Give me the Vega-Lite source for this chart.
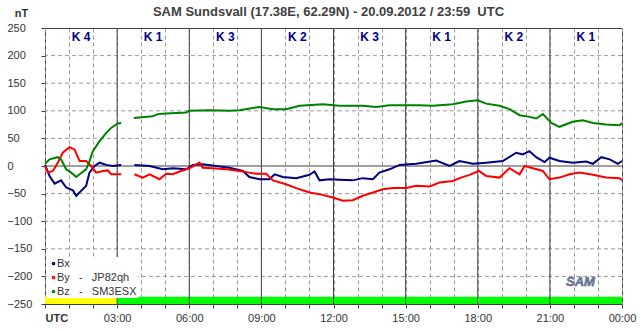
{
  "$schema": "https://vega.github.io/schema/vega-lite/v6.json",
  "width": 577,
  "height": 276,
  "autosize": {"type": "none"},
  "padding": {"left": 45, "top": 28, "right": 21, "bottom": 27},
  "background": "white",
  "config": {
    "font": "Liberation Sans",
    "view": {"stroke": "#404040", "strokeWidth": 1},
    "axis": {
      "grid": true,
      "gridColor": "#999999",
      "gridDash": [4, 3],
      "gridWidth": 1,
      "gridOpacity": 1,
      "domain": false,
      "ticks": true,
      "tickSize": 4,
      "tickColor": "#404040",
      "labelFontSize": 11,
      "labelColor": "#333333",
      "labelOverlap": false,
      "labelFlush": false,
      "labelBound": false
    },
    "axisX": {"labelPadding": 4},
    "axisY": {"labelAlign": "left", "labelBaseline": "middle", "labelPadding": 34}
  },
  "title": {
    "text": "SAM Sundsvall (17.38E, 62.29N) - 20.09.2012 / 23:59\u00a0\u00a0UTC",
    "fontSize": 13,
    "fontWeight": "bold",
    "color": "#404040",
    "anchor": "middle",
    "frame": "group",
    "dx": -5,
    "offset": -12
  },
  "datasets": {
    "band": [
      {"from": 0, "to": 3, "status": "partial"},
      {"from": 3, "to": 17.98, "status": "ok"},
      {"from": 18.04, "to": 24, "status": "ok"}
    ],
    "hours3": [{"h": 3}, {"h": 6}, {"h": 9}, {"h": 12}, {"h": 15}, {"h": 18}, {"h": 21}],
    "ygrid": [{"g": -200}, {"g": -150}, {"g": -100}, {"g": -50}, {"g": 50}, {"g": 100}, {"g": 150}, {"g": 200}],
    "kindex": [
      {"start": 0, "k": "K 4"}, {"start": 3, "k": "K 1"}, {"start": 6, "k": "K 3"}, {"start": 9, "k": "K 2"},
      {"start": 12, "k": "K 3"}, {"start": 15, "k": "K 1"}, {"start": 18, "k": "K 2"}, {"start": 21, "k": "K 1"}
    ],
    "mag": [
      {"c": "Bx", "s": 1, "t": 0, "v": 2}, {"c": "Bx", "s": 1, "t": 0.19, "v": -18}, {"c": "Bx", "s": 1, "t": 0.4, "v": -32},
      {"c": "Bx", "s": 1, "t": 0.67, "v": -26}, {"c": "Bx", "s": 1, "t": 0.88, "v": -39}, {"c": "Bx", "s": 1, "t": 1.16, "v": -44},
      {"c": "Bx", "s": 1, "t": 1.3, "v": -54}, {"c": "Bx", "s": 1, "t": 1.5, "v": -45}, {"c": "Bx", "s": 1, "t": 1.71, "v": -36},
      {"c": "Bx", "s": 1, "t": 1.85, "v": -12}, {"c": "Bx", "s": 1, "t": 2.06, "v": 0}, {"c": "Bx", "s": 1, "t": 2.27, "v": 6},
      {"c": "Bx", "s": 1, "t": 2.55, "v": 2}, {"c": "Bx", "s": 1, "t": 2.82, "v": 0}, {"c": "Bx", "s": 1, "t": 3.17, "v": 2},
      {"c": "Bx", "s": 2, "t": 3.72, "v": 2}, {"c": "Bx", "s": 2, "t": 4.35, "v": 0}, {"c": "Bx", "s": 2, "t": 4.9, "v": -6},
      {"c": "Bx", "s": 2, "t": 5.32, "v": -4}, {"c": "Bx", "s": 2, "t": 5.87, "v": -6}, {"c": "Bx", "s": 2, "t": 6.15, "v": 2},
      {"c": "Bx", "s": 2, "t": 6.56, "v": 3}, {"c": "Bx", "s": 2, "t": 7.12, "v": 0}, {"c": "Bx", "s": 2, "t": 7.67, "v": -3},
      {"c": "Bx", "s": 2, "t": 8.23, "v": -9}, {"c": "Bx", "s": 2, "t": 8.5, "v": -20}, {"c": "Bx", "s": 2, "t": 8.92, "v": -24},
      {"c": "Bx", "s": 2, "t": 9.34, "v": -24}, {"c": "Bx", "s": 2, "t": 9.55, "v": -15}, {"c": "Bx", "s": 2, "t": 9.89, "v": -20},
      {"c": "Bx", "s": 2, "t": 10.45, "v": -22}, {"c": "Bx", "s": 2, "t": 11.0, "v": -16}, {"c": "Bx", "s": 2, "t": 11.21, "v": -10},
      {"c": "Bx", "s": 2, "t": 11.42, "v": -26}, {"c": "Bx", "s": 2, "t": 11.83, "v": -24}, {"c": "Bx", "s": 2, "t": 12.25, "v": -25},
      {"c": "Bx", "s": 2, "t": 12.8, "v": -26}, {"c": "Bx", "s": 2, "t": 13.22, "v": -22}, {"c": "Bx", "s": 2, "t": 13.64, "v": -24},
      {"c": "Bx", "s": 2, "t": 13.91, "v": -12}, {"c": "Bx", "s": 2, "t": 14.33, "v": -6}, {"c": "Bx", "s": 2, "t": 14.75, "v": 2},
      {"c": "Bx", "s": 2, "t": 15.44, "v": 4}, {"c": "Bx", "s": 2, "t": 16.27, "v": 10}, {"c": "Bx", "s": 2, "t": 16.83, "v": 0},
      {"c": "Bx", "s": 2, "t": 17.24, "v": 9}, {"c": "Bx", "s": 2, "t": 17.8, "v": 4}, {"c": "Bx", "s": 2, "t": 18.35, "v": 6},
      {"c": "Bx", "s": 2, "t": 19.04, "v": 9}, {"c": "Bx", "s": 2, "t": 19.6, "v": 24}, {"c": "Bx", "s": 2, "t": 19.87, "v": 21},
      {"c": "Bx", "s": 2, "t": 20.15, "v": 27}, {"c": "Bx", "s": 2, "t": 20.43, "v": 16}, {"c": "Bx", "s": 2, "t": 20.78, "v": 7},
      {"c": "Bx", "s": 2, "t": 20.98, "v": 15}, {"c": "Bx", "s": 2, "t": 21.4, "v": 9}, {"c": "Bx", "s": 2, "t": 21.95, "v": 6},
      {"c": "Bx", "s": 2, "t": 22.51, "v": 8}, {"c": "Bx", "s": 2, "t": 22.79, "v": 4}, {"c": "Bx", "s": 2, "t": 23.14, "v": 16},
      {"c": "Bx", "s": 2, "t": 23.49, "v": 12}, {"c": "Bx", "s": 2, "t": 23.83, "v": 4}, {"c": "Bx", "s": 2, "t": 24, "v": 9},

      {"c": "By", "s": 1, "t": 0, "v": 0}, {"c": "By", "s": 1, "t": 0.12, "v": -12}, {"c": "By", "s": 1, "t": 0.33, "v": -9},
      {"c": "By", "s": 1, "t": 0.53, "v": 6}, {"c": "By", "s": 1, "t": 0.74, "v": 24}, {"c": "By", "s": 1, "t": 1.02, "v": 34},
      {"c": "By", "s": 1, "t": 1.23, "v": 30}, {"c": "By", "s": 1, "t": 1.44, "v": 9}, {"c": "By", "s": 1, "t": 1.71, "v": 9},
      {"c": "By", "s": 1, "t": 1.92, "v": 0}, {"c": "By", "s": 1, "t": 2.13, "v": -12}, {"c": "By", "s": 1, "t": 2.41, "v": -9},
      {"c": "By", "s": 1, "t": 2.61, "v": -8}, {"c": "By", "s": 1, "t": 2.75, "v": -15}, {"c": "By", "s": 1, "t": 3.17, "v": -15},
      {"c": "By", "s": 2, "t": 3.72, "v": -15}, {"c": "By", "s": 2, "t": 4.07, "v": -21}, {"c": "By", "s": 2, "t": 4.35, "v": -15},
      {"c": "By", "s": 2, "t": 4.76, "v": -24}, {"c": "By", "s": 2, "t": 5.04, "v": -14}, {"c": "By", "s": 2, "t": 5.32, "v": -15},
      {"c": "By", "s": 2, "t": 5.6, "v": -10}, {"c": "By", "s": 2, "t": 6.01, "v": -4}, {"c": "By", "s": 2, "t": 6.43, "v": 6},
      {"c": "By", "s": 2, "t": 6.56, "v": -3}, {"c": "By", "s": 2, "t": 6.98, "v": -4}, {"c": "By", "s": 2, "t": 7.54, "v": -6},
      {"c": "By", "s": 2, "t": 7.95, "v": -8}, {"c": "By", "s": 2, "t": 8.09, "v": -9}, {"c": "By", "s": 2, "t": 8.5, "v": -12},
      {"c": "By", "s": 2, "t": 8.78, "v": -14}, {"c": "By", "s": 2, "t": 9.2, "v": -14}, {"c": "By", "s": 2, "t": 9.48, "v": -26},
      {"c": "By", "s": 2, "t": 10.03, "v": -33}, {"c": "By", "s": 2, "t": 10.45, "v": -40}, {"c": "By", "s": 2, "t": 11.0, "v": -48},
      {"c": "By", "s": 2, "t": 11.42, "v": -51}, {"c": "By", "s": 2, "t": 11.97, "v": -57}, {"c": "By", "s": 2, "t": 12.39, "v": -63},
      {"c": "By", "s": 2, "t": 12.8, "v": -62}, {"c": "By", "s": 2, "t": 13.22, "v": -54}, {"c": "By", "s": 2, "t": 13.64, "v": -48},
      {"c": "By", "s": 2, "t": 14.05, "v": -42}, {"c": "By", "s": 2, "t": 14.47, "v": -40}, {"c": "By", "s": 2, "t": 15.03, "v": -40},
      {"c": "By", "s": 2, "t": 15.44, "v": -36}, {"c": "By", "s": 2, "t": 16.0, "v": -37}, {"c": "By", "s": 2, "t": 16.41, "v": -30},
      {"c": "By", "s": 2, "t": 16.96, "v": -27}, {"c": "By", "s": 2, "t": 17.31, "v": -21}, {"c": "By", "s": 2, "t": 17.66, "v": -16},
      {"c": "By", "s": 2, "t": 18.05, "v": -9}, {"c": "By", "s": 2, "t": 18.35, "v": -18}, {"c": "By", "s": 2, "t": 18.91, "v": -21},
      {"c": "By", "s": 2, "t": 19.32, "v": -4}, {"c": "By", "s": 2, "t": 19.74, "v": -15}, {"c": "By", "s": 2, "t": 19.95, "v": 0},
      {"c": "By", "s": 2, "t": 20.29, "v": -4}, {"c": "By", "s": 2, "t": 20.71, "v": -9}, {"c": "By", "s": 2, "t": 20.98, "v": -24},
      {"c": "By", "s": 2, "t": 21.4, "v": -21}, {"c": "By", "s": 2, "t": 21.82, "v": -15}, {"c": "By", "s": 2, "t": 22.23, "v": -12},
      {"c": "By", "s": 2, "t": 22.79, "v": -16}, {"c": "By", "s": 2, "t": 23.34, "v": -21}, {"c": "By", "s": 2, "t": 23.9, "v": -22},
      {"c": "By", "s": 2, "t": 24, "v": -26},

      {"c": "Bz", "s": 1, "t": 0, "v": 4}, {"c": "Bz", "s": 1, "t": 0.19, "v": 12}, {"c": "Bz", "s": 1, "t": 0.53, "v": 16},
      {"c": "Bz", "s": 1, "t": 0.67, "v": 12}, {"c": "Bz", "s": 1, "t": 0.88, "v": -6}, {"c": "Bz", "s": 1, "t": 1.09, "v": -12},
      {"c": "Bz", "s": 1, "t": 1.3, "v": -20}, {"c": "Bz", "s": 1, "t": 1.44, "v": -15}, {"c": "Bz", "s": 1, "t": 1.71, "v": -6},
      {"c": "Bz", "s": 1, "t": 1.85, "v": 9}, {"c": "Bz", "s": 1, "t": 1.99, "v": 27}, {"c": "Bz", "s": 1, "t": 2.27, "v": 45},
      {"c": "Bz", "s": 1, "t": 2.55, "v": 60}, {"c": "Bz", "s": 1, "t": 2.75, "v": 69}, {"c": "Bz", "s": 1, "t": 3.03, "v": 77},
      {"c": "Bz", "s": 1, "t": 3.17, "v": 78},
      {"c": "Bz", "s": 2, "t": 3.69, "v": 87}, {"c": "Bz", "s": 2, "t": 4.48, "v": 90}, {"c": "Bz", "s": 2, "t": 4.69, "v": 94},
      {"c": "Bz", "s": 2, "t": 5.04, "v": 95}, {"c": "Bz", "s": 2, "t": 5.87, "v": 97}, {"c": "Bz", "s": 2, "t": 6.0, "v": 100},
      {"c": "Bz", "s": 2, "t": 6.8, "v": 101}, {"c": "Bz", "s": 2, "t": 7.67, "v": 100}, {"c": "Bz", "s": 2, "t": 8.09, "v": 101},
      {"c": "Bz", "s": 2, "t": 8.92, "v": 107}, {"c": "Bz", "s": 2, "t": 9.48, "v": 103}, {"c": "Bz", "s": 2, "t": 10.03, "v": 103},
      {"c": "Bz", "s": 2, "t": 10.59, "v": 109}, {"c": "Bz", "s": 2, "t": 11.56, "v": 112}, {"c": "Bz", "s": 2, "t": 12.25, "v": 109},
      {"c": "Bz", "s": 2, "t": 13.22, "v": 109}, {"c": "Bz", "s": 2, "t": 13.78, "v": 107}, {"c": "Bz", "s": 2, "t": 14.33, "v": 110},
      {"c": "Bz", "s": 2, "t": 15.16, "v": 110}, {"c": "Bz", "s": 2, "t": 15.58, "v": 110}, {"c": "Bz", "s": 2, "t": 16.13, "v": 109},
      {"c": "Bz", "s": 2, "t": 16.96, "v": 112}, {"c": "Bz", "s": 2, "t": 17.52, "v": 117}, {"c": "Bz", "s": 2, "t": 18.0, "v": 119},
      {"c": "Bz", "s": 2, "t": 18.35, "v": 113}, {"c": "Bz", "s": 2, "t": 18.91, "v": 109}, {"c": "Bz", "s": 2, "t": 19.32, "v": 103},
      {"c": "Bz", "s": 2, "t": 19.74, "v": 92}, {"c": "Bz", "s": 2, "t": 20.16, "v": 89}, {"c": "Bz", "s": 2, "t": 20.43, "v": 86},
      {"c": "Bz", "s": 2, "t": 20.71, "v": 94}, {"c": "Bz", "s": 2, "t": 21.06, "v": 78}, {"c": "Bz", "s": 2, "t": 21.4, "v": 71},
      {"c": "Bz", "s": 2, "t": 21.95, "v": 80}, {"c": "Bz", "s": 2, "t": 22.37, "v": 83}, {"c": "Bz", "s": 2, "t": 22.79, "v": 78},
      {"c": "Bz", "s": 2, "t": 23.34, "v": 75}, {"c": "Bz", "s": 2, "t": 23.9, "v": 74}, {"c": "Bz", "s": 2, "t": 24, "v": 78}
    ]
  },
  "layer": [
    {
      "data": {"name": "ygrid"},
      "mark": {"type": "rule", "color": "#999999", "strokeWidth": 1, "strokeDash": [4, 3]},
      "encoding": {"y": {"field": "g", "type": "quantitative"}}
    },
    {
      "data": {"name": "band"},
      "mark": {"type": "rect"},
      "encoding": {
        "x": {"field": "from", "type": "quantitative"},
        "x2": {"field": "to"},
        "y": {"datum": -250, "type": "quantitative"},
        "y2": {"datum": -237},
        "fill": {
          "field": "status", "type": "nominal",
          "scale": {"domain": ["partial", "ok"], "range": ["#ffff00", "#00ff00"]},
          "legend": null
        }
      }
    },
    {
      "data": {"name": "hours3"},
      "mark": {"type": "rule", "color": "#404040", "strokeWidth": 1},
      "encoding": {"x": {"field": "h", "type": "quantitative"}}
    },
    {
      "data": {"values": [{}]},
      "mark": {"type": "rule", "color": "#404040", "strokeWidth": 1},
      "encoding": {"y": {"datum": 0, "type": "quantitative"}}
    },
    {
      "data": {"name": "mag"},
      "mark": {"type": "line", "strokeWidth": 2},
      "encoding": {
        "x": {
          "field": "t", "type": "quantitative",
          "scale": {"domain": [0, 24], "nice": false, "zero": false},
          "axis": {
            "values": [0, 1, 2, 3, 4, 5, 6, 7, 8, 9, 10, 11, 12, 13, 14, 15, 16, 17, 18, 19, 20, 21, 22, 23, 24],
            "tickCount": 100,
            "grid": true,
            "labelExpr": "datum.value % 3 != 0 ? '' : (datum.value == 0 ? 'UTC' : (datum.value == 24 ? '00:00' : (datum.value < 10 ? '0' : '') + datum.value + ':00'))",
            "labelFontWeight": {"condition": {"test": "datum.value == 0", "value": "bold"}, "value": "normal"},
            "labelAlign": {"condition": {"test": "datum.value == 0", "value": "left"}, "value": "center"},
            "labelOverlap": false,
            "title": ""
          }
        },
        "y": {
          "field": "v", "type": "quantitative",
          "scale": {"domain": [-250, 250], "nice": false, "zero": false},
          "axis": {
            "values": [-250, -200, -150, -100, -50, 0, 50, 100, 150, 200, 250],
            "tickCount": 100,
            "grid": false,
            "labelOverlap": false,
            "title": "nT",
            "titleAngle": 0,
            "titleAlign": "center",
            "titleBaseline": "middle",
            "titleX": -24,
            "titleY": -15,
            "titleFontSize": 11,
            "titleFontWeight": "bold",
            "titleColor": "#333333"
          }
        },
        "detail": {"field": "s"},
        "color": {
          "field": "c", "type": "nominal",
          "scale": {"domain": ["Bx", "By", "Bz"], "range": ["#000080", "#ff0000", "#008000"]},
          "legend": {
            "orient": "none",
            "legendX": 2,
            "legendY": 229,
            "title": null,
            "symbolType": "circle",
            "symbolSize": 5,
            "symbolStrokeWidth": 1.5,
            "labelFontSize": 11,
            "labelColor": "#333333",
            "labelOffset": -2,
            "labelExpr": "datum.label == 'By' ? 'By\u00a0\u00a0\u00a0-\u00a0\u00a0\u00a0JP82qh' : (datum.label == 'Bz' ? 'Bz\u00a0\u00a0\u00a0-\u00a0\u00a0\u00a0SM3ESX' : datum.label)",
            "fillColor": "white",
            "padding": 1,
            "rowPadding": 2
          }
        }
      }
    },
    {
      "data": {"name": "kindex"},
      "mark": {"type": "text", "dx": 36, "align": "center", "baseline": "middle", "fontWeight": "bold", "fontSize": 12, "color": "#00008b"},
      "encoding": {
        "x": {"field": "start", "type": "quantitative"},
        "y": {"datum": 234, "type": "quantitative"},
        "text": {"field": "k"}
      }
    },
    {
      "data": {"values": [{}]},
      "mark": {"type": "text", "text": "SAM", "align": "center", "baseline": "middle", "fontStyle": "italic", "fontWeight": "bold", "fontSize": 13, "color": "#7a86a8", "stroke": "#4a5578", "strokeWidth": 0.5},
      "encoding": {
        "x": {"datum": 22.27, "type": "quantitative"},
        "y": {"datum": -211, "type": "quantitative"}
      }
    }
  ]
}
